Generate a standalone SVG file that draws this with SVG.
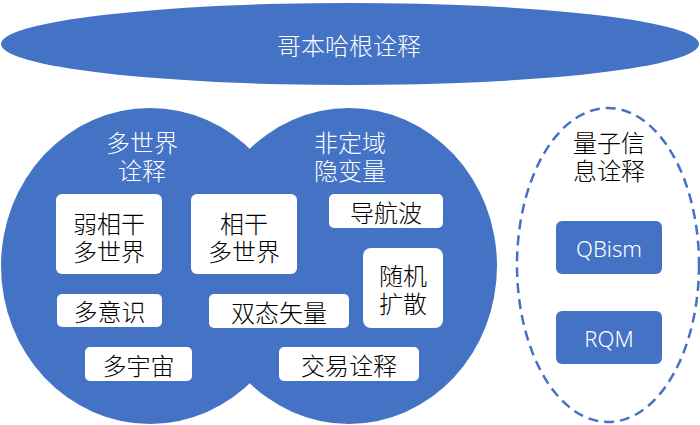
<svg xmlns="http://www.w3.org/2000/svg" width="700" height="425" viewBox="0 0 700 425">
<style>
text{font-family:"Noto Sans CJK SC","Noto Sans",sans-serif;font-size:24px;font-weight:300;text-anchor:middle;dominant-baseline:central}
.blue{fill:#4472C4}
.w{fill:#ffffff}
.k{fill:#000000}
.box{fill:#ffffff}
.bbox{fill:#4472C4}
.lat{font-family:"Noto Sans","Noto Sans CJK SC",sans-serif;font-size:22px}
</style>
<rect width="700" height="425" fill="#ffffff"/>
<g id="copenhagen">
<ellipse class="blue" cx="350" cy="44" rx="349" ry="41"/>
<text class="w" x="349" y="44">哥本哈根诠释</text>
</g>
<g id="many-worlds">
<ellipse class="blue" cx="150" cy="266" rx="149" ry="158"/>
</g>
<g id="nonlocal-hidden-variables">
<ellipse class="blue" cx="349" cy="266" rx="148" ry="158"/>
</g>
<g id="many-worlds-title"><text class="w" x="142" y="141">多世界</text><text class="w" x="142" y="169">诠释</text></g>
<g id="nonlocal-title"><text class="w" x="350" y="141">非定域</text><text class="w" x="350" y="169">隐变量</text></g>
<g id="weak-coherent-many-worlds">
<rect class="box" x="56" y="194" width="106" height="80" rx="6"/>
<text class="k" x="109" y="222">弱相干</text><text class="k" x="109" y="250">多世界</text>
</g>
<g id="many-minds">
<rect class="box" x="57" y="294" width="105" height="33" rx="5"/>
<text class="k" x="109.5" y="310.5">多意识</text>
</g>
<g id="multiverse">
<rect class="box" x="85" y="347" width="107" height="34" rx="5"/>
<text class="k" x="138.5" y="364">多宇宙</text>
</g>
<g id="coherent-many-worlds">
<rect class="box" x="191" y="194" width="106" height="80" rx="6"/>
<text class="k" x="244" y="222">相干</text><text class="k" x="244" y="250">多世界</text>
</g>
<g id="two-state-vector">
<rect class="box" x="209" y="294" width="140" height="34" rx="5"/>
<text class="k" x="279" y="311">双态矢量</text>
</g>
<g id="pilot-wave">
<rect class="box" x="329" y="194" width="114" height="34" rx="5"/>
<text class="k" x="386" y="211">导航波</text>
</g>
<g id="stochastic-diffusion">
<rect class="box" x="363" y="248" width="80" height="80" rx="8"/>
<text class="k" x="403" y="274">随机</text><text class="k" x="403" y="302">扩散</text>
</g>
<g id="transactional">
<rect class="box" x="279" y="347" width="140" height="34" rx="5"/>
<text class="k" x="349" y="364">交易诠释</text>
</g>
<g id="quantum-information">
<ellipse cx="608" cy="265" rx="91" ry="157" fill="none" stroke="#4472C4" stroke-width="2.5" stroke-dasharray="10 6"/>
<text class="k" x="609" y="141">量子信</text><text class="k" x="609" y="169">息诠释</text>
</g>
<g id="qbism">
<rect class="bbox" x="556" y="221" width="106" height="53" rx="6"/>
<text class="w lat" x="609" y="247.5">QBism</text>
</g>
<g id="rqm">
<rect class="bbox" x="556" y="311" width="106" height="53" rx="6"/>
<text class="w lat" x="609" y="337.5">RQM</text>
</g>
<g id="connectors"/>
</svg>
